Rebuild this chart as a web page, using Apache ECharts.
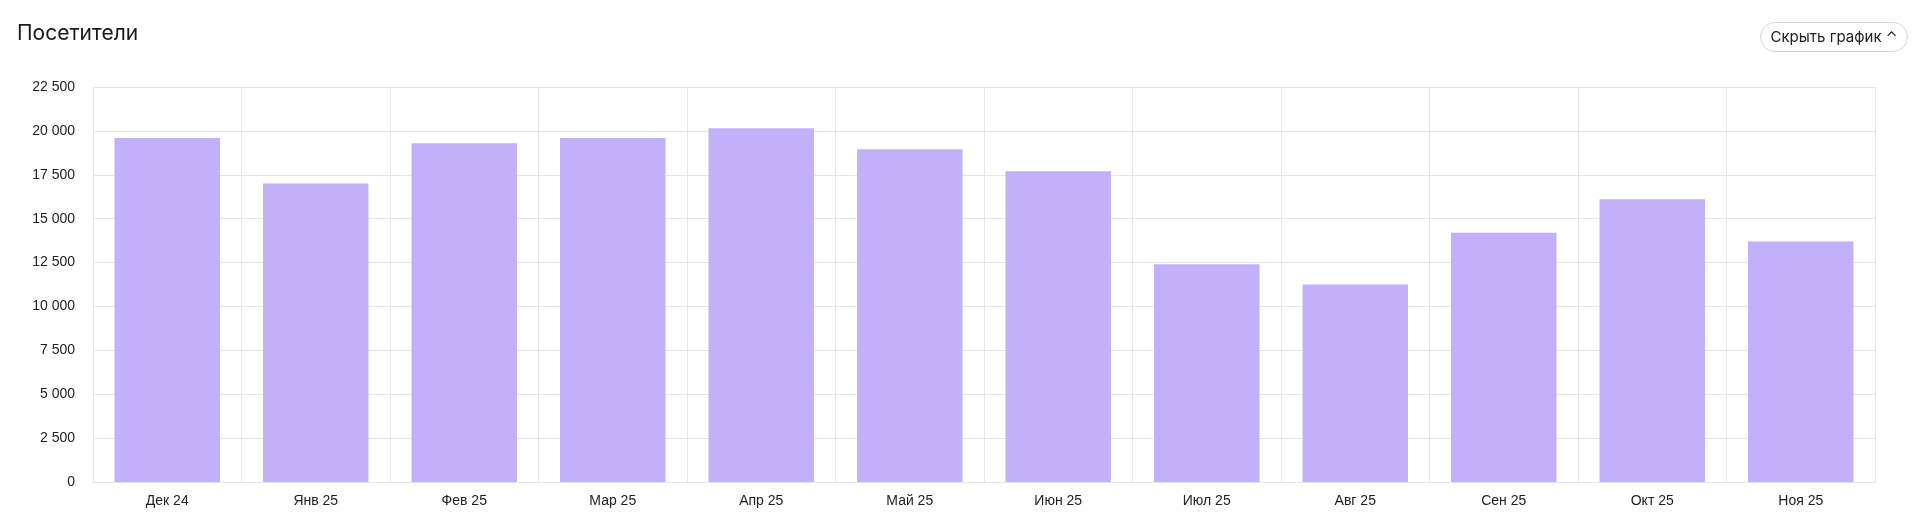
<!DOCTYPE html>
<html>
<head>
<meta charset="utf-8">
<script src="https://cdn.jsdelivr.net/npm/echarts@6/dist/echarts.min.js"></script>
<style>
  html, body { margin: 0; padding: 0; background: #fff; font-family: Inter, "Noto Sans", sans-serif; }
  #wrap { position: relative; width: 1920px; height: 532px; }
  #chart { width: 1920px; height: 532px; }
  .title { position: absolute; left: 17px; top: 20px; font-size: 21px; color: #1a1a1a; }
  .btn { position: absolute; left: 1760px; top: 22px; width: 148px; height: 30px; border: 1px solid #d6d6d6;
         border-radius: 16px; box-sizing: border-box; font-size: 15px; color: #222; line-height: 28px; text-align: center; }
</style>
</head>
<body>
<div id="wrap">
  <div id="chart"></div>
  <div class="title">Посетители</div>
  <div class="btn">Скрыть график &#8963;</div>
</div>
<script>
// месяцы и посетители
var months = ['Дек 24', 'Янв 25', 'Фев 25', 'Мар 25', 'Апр 25', 'Май 25', 'Июн 25', 'Июл 25', 'Авг 25', 'Сен 25', 'Окт 25', 'Ноя 25'];
var visitors = [19600, 17000, 19300, 19600, 20150, 18950, 17700, 12400, 11250, 14200, 16100, 13700];

var chart = echarts.init(document.getElementById('chart'));
chart.setOption({
  animation: false,
  grid: { left: 93, right: 45, top: 87, bottom: 50 },
  xAxis: {
    type: 'category',
    data: months,
    boundaryGap: true,
    axisTick: { show: false },
    axisLine: { lineStyle: { color: '#e6e6e6' } },
    axisLabel: { color: '#222', fontSize: 14, margin: 12, fontFamily: 'Liberation Sans' },
    splitLine: { show: true, interval: 0, lineStyle: { color: '#e6e6e6' } }
  },
  yAxis: {
    type: 'value',
    min: 0,
    max: 22500,
    interval: 2500,
    axisLabel: {
      color: '#222', fontSize: 14, margin: 18, fontFamily: 'Liberation Sans',
      formatter: function (v) { return String(v).replace(/\B(?=(\d{3})+(?!\d))/g, ' '); }
    },
    splitLine: { lineStyle: { color: '#e6e6e6' } },
    axisLine: { show: false },
    axisTick: { show: false }
  },
  series: [{
    type: 'bar',
    data: visitors,
    barWidth: '71%',
    itemStyle: { color: '#c2b1fa' }
  }]
});
</script>
</body>
</html>
